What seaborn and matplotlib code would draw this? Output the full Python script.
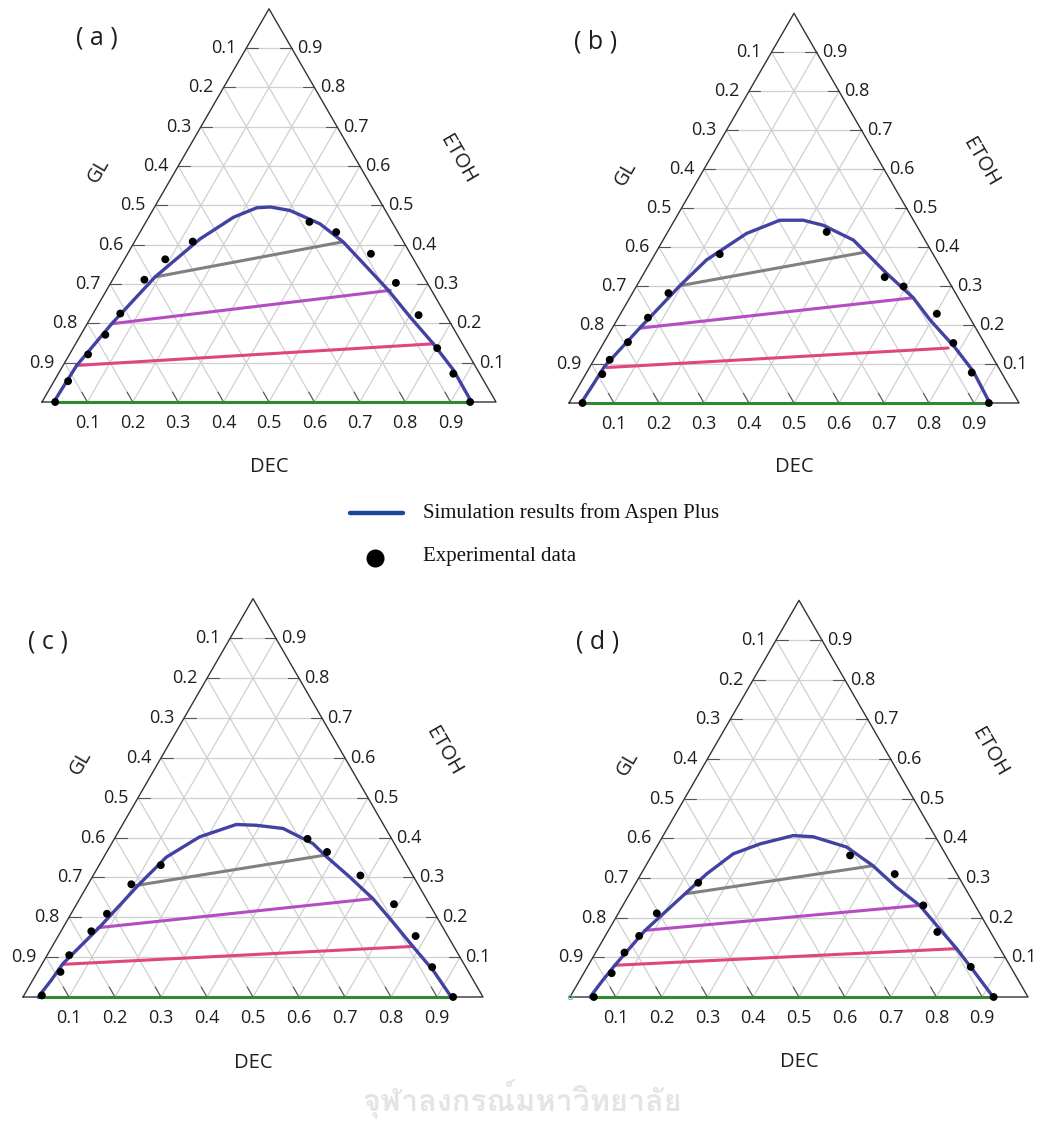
import numpy as np
import pandas as pd
import matplotlib
matplotlib.use("Agg")
import matplotlib.pyplot as plt
import seaborn as sns
from matplotlib import font_manager
from matplotlib.ft2font import FT2Font

sns.set_theme(style="white")
plt.rcParams['font.family'] = ['Open Sans', 'DejaVu Sans']

W, H = 1045, 1124
SQ3 = np.sqrt(3) / 2

## Binodal curves (DEC, ETOH mole fractions, GL = 1 - DEC - ETOH) ##
curve_a_dec = [0.026, 0.028, 0.030, 0.054, 0.090, 0.141, 0.187, 0.226, 0.255, 0.303, 0.386, 0.460, 0.544, 0.621, 0.703, 0.788, 0.866, 0.946]
curve_a_etoh = [0.0, 0.05, 0.093, 0.199, 0.318, 0.415, 0.470, 0.494, 0.496, 0.487, 0.453, 0.407, 0.343, 0.284, 0.216, 0.148, 0.081, 0.0]
curve_b_dec = [0.027, 0.030, 0.032, 0.061, 0.096, 0.122, 0.177, 0.234, 0.286, 0.337, 0.423, 0.464, 0.539, 0.630, 0.696, 0.787, 0.858, 0.935]
curve_b_etoh = [0.0, 0.05, 0.094, 0.192, 0.301, 0.367, 0.435, 0.469, 0.469, 0.456, 0.418, 0.388, 0.333, 0.270, 0.213, 0.142, 0.081, 0.0]
curve_c_dec = [0.033, 0.040, 0.045, 0.079, 0.110, 0.136, 0.183, 0.247, 0.292, 0.354, 0.438, 0.478, 0.560, 0.637, 0.710, 0.784, 0.858, 0.931]
curve_c_etoh = [0.0, 0.04, 0.084, 0.176, 0.280, 0.351, 0.402, 0.433, 0.431, 0.423, 0.385, 0.356, 0.301, 0.247, 0.188, 0.127, 0.067, 0.0]
curve_d_dec = [0.044, 0.050, 0.058, 0.080, 0.121, 0.143, 0.176, 0.222, 0.284, 0.329, 0.415, 0.496, 0.574, 0.648, 0.716, 0.783, 0.847, 0.924]
curve_d_etoh = [0.0, 0.04, 0.080, 0.168, 0.260, 0.310, 0.361, 0.386, 0.407, 0.404, 0.378, 0.331, 0.277, 0.231, 0.176, 0.122, 0.067, 0.0]

## Experimental data ##
exp_a_dec = [0.029, 0.031, 0.041, 0.054, 0.060, 0.070, 0.090, 0.128, 0.360, 0.432, 0.536, 0.628, 0.719, 0.802, 0.870, 0.943]
exp_a_etoh = [0.0, 0.053, 0.121, 0.171, 0.225, 0.311, 0.363, 0.408, 0.458, 0.432, 0.377, 0.303, 0.221, 0.137, 0.072, 0.0]
exp_b_dec = [0.030, 0.037, 0.035, 0.053, 0.066, 0.080, 0.144, 0.353, 0.540, 0.594, 0.703, 0.777, 0.856, 0.933]
exp_b_etoh = [0.0, 0.074, 0.111, 0.156, 0.219, 0.282, 0.382, 0.439, 0.323, 0.299, 0.229, 0.154, 0.078, 0.0]
exp_c_dec = [0.039, 0.050, 0.048, 0.066, 0.078, 0.094, 0.134, 0.420, 0.479, 0.581, 0.690, 0.777, 0.852, 0.935]
exp_c_etoh = [0.004, 0.063, 0.105, 0.165, 0.209, 0.283, 0.331, 0.397, 0.364, 0.305, 0.233, 0.153, 0.075, 0.0]
exp_d_dec = [0.052, 0.061, 0.063, 0.074, 0.084, 0.136, 0.433, 0.554, 0.656, 0.720, 0.837, 0.925]
exp_d_etoh = [0.0, 0.060, 0.112, 0.154, 0.211, 0.288, 0.357, 0.310, 0.231, 0.164, 0.076, 0.0]

## Tie lines (left end, right end) ##
tie_a_dec = [(0.026, 0.943), (0.030, 0.788), (0.054, 0.625), (0.090, 0.457)]
tie_a_etoh = [(0.0, 0.0), (0.093, 0.148), (0.199, 0.284), (0.318, 0.407)]
tie_b_dec = [(0.027, 0.935), (0.038, 0.772), (0.061, 0.630), (0.096, 0.464)]
tie_b_etoh = [(0.0, 0.0), (0.091, 0.141), (0.192, 0.270), (0.301, 0.387)]
tie_c_dec = [(0.033, 0.935), (0.046, 0.784), (0.076, 0.637), (0.106, 0.478)]
tie_c_etoh = [(0.0, 0.0), (0.082, 0.127), (0.174, 0.247), (0.280, 0.356)]
tie_d_dec = [(0.044, 0.925), (0.058, 0.783), (0.080, 0.648), (0.121, 0.496)]
tie_d_etoh = [(0.0, 0.0), (0.080, 0.122), (0.168, 0.231), (0.260, 0.331)]
tie_colors = ['#2f8a2f', '#e0457f', '#b64cc4', '#808080']

panel_labels = ['( a )', '( b )', '( c )', '( d )']
tick_vals = [0.1, 0.2, 0.3, 0.4, 0.5, 0.6, 0.7, 0.8, 0.9]

curve_color = '#4242a2'


def tern(dec, etoh):
    dec = np.asarray(dec, dtype=float)
    etoh = np.asarray(etoh, dtype=float)
    return dec + etoh / 2, etoh * SQ3


# panel placement: triangle origin in pixels (x, y from top) and px per unit
panels = [
    dict(x0=42, y0=402, s=454, lab=(0.121, 0.802)),
    dict(x0=569, y0=403, s=450, lab=(0.058, 0.802)),
    dict(x0=23, y0=997, s=460, lab=(0.054, 0.772)),
    dict(x0=570, y0=997, s=458, lab=(0.061, 0.775)),
]
data = [
    (curve_a_dec, curve_a_etoh, exp_a_dec, exp_a_etoh, tie_a_dec, tie_a_etoh),
    (curve_b_dec, curve_b_etoh, exp_b_dec, exp_b_etoh, tie_b_dec, tie_b_etoh),
    (curve_c_dec, curve_c_etoh, exp_c_dec, exp_c_etoh, tie_c_dec, tie_c_etoh),
    (curve_d_dec, curve_d_etoh, exp_d_dec, exp_d_etoh, tie_d_dec, tie_d_etoh),
]

fig = plt.figure(figsize=(W / 100, H / 100), dpi=100)
fig.patch.set_facecolor('white')

XMIN, XMAX, YMIN, YMAX = -0.15, 1.15, -0.2, 0.95

# faint watermark text (only if a Thai font exists)
thai_font = None
for f in font_manager.fontManager.ttflist:
    try:
        if 0x0E08 in FT2Font(f.fname).get_charmap():
            thai_font = f.name
            break
    except Exception:
        pass
if thai_font is not None:
    fig.text(522 / W, 1 - 1098 / H, 'จุฬาลงกรณ์มหาวิทยาลัย', ha='center', va='center',
             fontsize=22, fontweight='bold', color='#e4e4e4', family=[thai_font, 'DejaVu Sans'])

for i, (p, d) in enumerate(zip(panels, data)):
    s = p['s']
    ax = fig.add_axes([(p['x0'] + XMIN * s) / W, (H - p['y0'] + YMIN * s) / H,
                       (XMAX - XMIN) * s / W, (YMAX - YMIN) * s / H])
    ax.set_xlim(XMIN, XMAX)
    ax.set_ylim(YMIN, YMAX)
    ax.axis('off')
    ax.patch.set_alpha(0)

    # grid
    for v in tick_vals:
        gx, gy = tern([0, 1 - v], [v, v])
        ax.plot(gx, gy, color='#d0d0d0', lw=0.9, zorder=1)
        gx, gy = tern([v, v], [0, 1 - v])
        ax.plot(gx, gy, color='#d0d0d0', lw=0.9, zorder=1)
        gx, gy = tern([1 - v, 0], [0, 1 - v])
        ax.plot(gx, gy, color='#d0d0d0', lw=0.9, zorder=1)
        # short ticks
        gx, gy = tern([0, 0.025], [v, v])
        ax.plot(gx, gy, color='#555555', lw=0.8, zorder=2)
        gx, gy = tern([1 - v, 1 - v - 0.025], [0, 0.025])
        ax.plot(gx, gy, color='#555555', lw=0.8, zorder=2)
        gx, gy = tern([1 - v - 0.025, 1 - v], [v, v])
        ax.plot(gx, gy, color='#555555', lw=0.8, zorder=2)

    # frame
    fx, fy = tern([0, 1, 0, 0], [0, 0, 1, 0])
    ax.plot(fx, fy, color='#333333', lw=1.0, zorder=3)

    # tick labels
    for v in tick_vals:
        lx, ly = tern(0, v)
        ax.annotate(f'{1 - v:.1f}', (lx, ly), xytext=(-7, 0), textcoords='offset points',
                    ha='right', va='center', fontsize=13, color='#1e1e1e')
        rx, ry = tern(1 - v, v)
        ax.annotate(f'{v:.1f}', (rx, ry), xytext=(4, 0), textcoords='offset points',
                    ha='left', va='center', fontsize=13, color='#1e1e1e')
        bx, by = tern(v, 0)
        ax.annotate(f'{v:.1f}', (bx, by), xytext=(0, -15), textcoords='offset points',
                    ha='center', va='center', fontsize=13, color='#1e1e1e')

    ax.text(0.5, -0.143, 'DEC', ha='center', va='center', fontsize=14.5, color='#1e1e1e')
    ax.text(0.125, 0.51, 'GL', ha='center', va='center', fontsize=14.5, rotation=60, color='#1e1e1e')
    ax.text(0.915, 0.535, 'ETOH', ha='center', va='center', fontsize=14.5, rotation=-60, color='#1e1e1e')
    ax.text(p['lab'][0], p['lab'][1], panel_labels[i], ha='center', va='center', fontsize=18, color='#1e1e1e')

    cdec, cetoh, edec, eetoh, tdec, tetoh = d

    # tie lines
    for (dl, dr), (el, er), col in zip(tdec, tetoh, tie_colors):
        tx, ty = tern([dl, dr], [el, er])
        sns.lineplot(x=tx, y=ty, ax=ax, color=col, lw=2.2, sort=False, estimator=None, zorder=4)

    # binodal curve
    cx, cy = tern(cdec, cetoh)
    sns.lineplot(x=cx, y=cy, ax=ax, color=curve_color, lw=2.4, sort=False, estimator=None, zorder=5)

    # experimental points
    ex, ey = tern(edec, eetoh)
    sns.scatterplot(x=ex, y=ey, ax=ax, color='black', s=32, edgecolor='none', zorder=6)

    if i == 3:
        ax.plot(0, 0, 'o', mfc='none', mec='#5fb8b8', ms=3, mew=0.8, zorder=7)

# legend
lax = fig.add_axes([0, 0, 1, 1])
lax.set_xlim(0, W)
lax.set_ylim(H, 0)
lax.axis('off')
lax.patch.set_alpha(0)
lax.plot([350, 403], [513, 513], color='#174a96', lw=3.2)
lax.plot([375], [558], 'o', color='black', ms=12)
lax.text(423, 513, 'Simulation results from Aspen Plus', ha='left', va='center', fontsize=15,
         family=['Liberation Serif', 'DejaVu Serif'], color='#111111')
lax.text(423, 556, 'Experimental data', ha='left', va='center', fontsize=15,
         family=['Liberation Serif', 'DejaVu Serif'], color='#111111')

fig.savefig('out.png', dpi=100, facecolor='white')
